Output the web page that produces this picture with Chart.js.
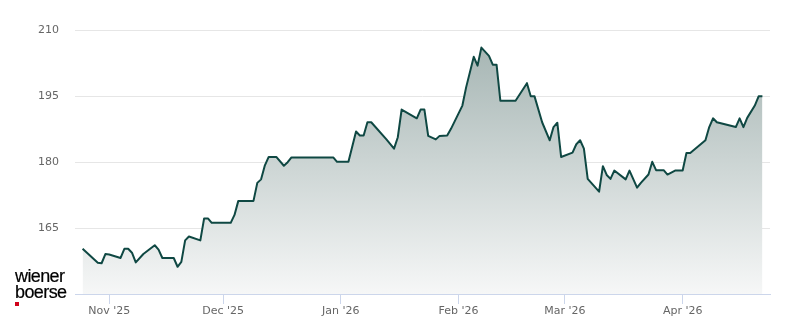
<!DOCTYPE html>
<html>
<head>
<meta charset="utf-8">
<title>Kursverlauf</title>
<script src="https://cdn.jsdelivr.net/npm/chart.js@4/dist/chart.umd.min.js"></script>
<style>
    html, body { margin: 0; padding: 0; background: #fff; }
    #wrap { position: relative; width: 800px; height: 324px; }
    #logo {
        position: absolute; left: 15px; top: 268px;
        font-family: "Liberation Sans", Arial, sans-serif;
        font-size: 18px; line-height: 16px; letter-spacing: -0.6px; color: #000;
        -webkit-text-stroke: 0.2px #000;
    }
    #logo i { position: absolute; left: 0; top: 34px; width: 4px; height: 4px; background: #d0021b; }
</style>
</head>
<body>
<div id="wrap">
    <canvas id="chart" width="800" height="324"></canvas>
    <div id="logo">wiener<br>boerse<i></i></div>
</div>
<script>
// --- Daten ---
const dates = [
    '2025-10-25', '2025-10-29', '2025-10-30', '2025-10-31', '2025-11-01', '2025-11-04', '2025-11-05',
    '2025-11-06', '2025-11-07', '2025-11-08', '2025-11-10', '2025-11-13', '2025-11-14', '2025-11-15',
    '2025-11-18', '2025-11-19', '2025-11-20', '2025-11-21', '2025-11-22', '2025-11-25', '2025-11-26',
    '2025-11-27', '2025-11-28', '2025-12-03', '2025-12-04', '2025-12-05', '2025-12-09', '2025-12-10',
    '2025-12-11', '2025-12-12', '2025-12-13', '2025-12-15', '2025-12-17', '2025-12-18', '2025-12-19',
    '2025-12-30', '2025-12-31', '2026-01-03', '2026-01-05', '2026-01-06', '2026-01-07', '2026-01-08',
    '2026-01-09', '2026-01-13', '2026-01-15', '2026-01-16', '2026-01-17', '2026-01-21', '2026-01-22',
    '2026-01-23', '2026-01-24', '2026-01-26', '2026-01-27', '2026-01-29', '2026-01-30', '2026-02-02',
    '2026-02-03', '2026-02-05', '2026-02-06', '2026-02-07', '2026-02-09', '2026-02-10', '2026-02-11',
    '2026-02-12', '2026-02-16', '2026-02-19', '2026-02-20', '2026-02-21', '2026-02-23', '2026-02-25',
    '2026-02-26', '2026-02-27', '2026-02-28', '2026-03-03', '2026-03-04', '2026-03-05', '2026-03-06',
    '2026-03-07', '2026-03-10', '2026-03-11', '2026-03-12', '2026-03-13', '2026-03-14', '2026-03-17',
    '2026-03-18', '2026-03-20', '2026-03-21', '2026-03-23', '2026-03-24', '2026-03-25', '2026-03-27',
    '2026-03-28', '2026-03-30', '2026-04-01', '2026-04-02', '2026-04-03', '2026-04-07', '2026-04-08',
    '2026-04-09', '2026-04-10', '2026-04-15', '2026-04-16', '2026-04-17', '2026-04-18', '2026-04-20',
    '2026-04-21', '2026-04-22'
];
const prices = [
    160.3, 157.1, 157.0, 159.1, 159.0, 158.2, 160.3,
    160.3, 159.4, 157.2, 159.1, 161.1, 160.1, 158.2,
    158.2, 156.2, 157.3, 162.2, 163.1, 162.2, 167.2,
    167.2, 166.2, 166.2, 168.0, 171.2, 171.2, 175.3,
    176.1, 179.3, 181.2, 181.2, 179.2, 180.0, 181.1,
    181.1, 180.1, 180.1, 187.0, 186.1, 186.1, 189.1,
    189.1, 185.2, 183.1, 185.7, 192.0, 190.0, 192.0,
    192.0, 186.0, 185.2, 186.0, 186.1, 187.6, 192.9,
    197.1, 204.0, 202.0, 206.1, 204.2, 202.2, 202.2,
    194.0, 194.0, 198.0, 195.0, 195.0, 189.1, 185.0,
    188.0, 189.0, 181.2, 182.2, 184.1, 185.0, 183.1,
    176.2, 173.3, 179.1, 177.1, 176.2, 178.1, 176.1,
    178.1, 174.2, 175.3, 177.2, 180.1, 178.2, 178.2,
    177.2, 178.1, 178.1, 182.1, 182.1, 185.0, 188.0,
    190.0, 189.1, 188.0, 190.0, 188.0, 190.1, 192.9,
    195.0, 195.0
];
const monthTicks = ['2025-11-01', '2025-12-01', '2026-01-01', '2026-02-01', '2026-03-01', '2026-04-01'];
const monthLabels = ["Nov '25", "Dec '25", "Jan '26", "Feb '26", "Mar '26", "Apr '26"];
const yTicks = [165, 180, 195, 210];
const xRange = ['2025-10-23', '2026-04-24'];
const yRange = [150, 215];

// Tage seit 1.11.2025
const base = Date.UTC(2025, 10, 1);
const toDay = s => (Date.parse(s) - base) / 864e5;

const points = dates.map((d, i) => ({ x: toDay(d), y: prices[i] }));
const tickDays = monthTicks.map(toDay);

const lineColor = '#0f4843';
const gridColor = '#e6e6e6';
const axisColor = '#ccd6eb';
const labelFont = { family: '"DejaVu Sans", sans-serif', size: 11 };

function fillGradient(context) {
    const area = context.chart.chartArea;
    if (!area) return 'rgba(15,72,67,0.2)';
    const g = context.chart.ctx.createLinearGradient(0, area.top + 30, 0, area.bottom);
    g.addColorStop(0, 'rgb(164,180,178)');
    g.addColorStop(1, 'rgb(246,247,247)');
    return g;
}

new Chart(document.getElementById('chart').getContext('2d'), {
    type: 'line',
    data: {
        datasets: [{
            data: points,
            borderColor: lineColor,
            borderWidth: 2,
            borderJoinStyle: 'round',
            backgroundColor: fillGradient,
            fill: 'start',
            tension: 0,
            pointRadius: 0
        }]
    },
    options: {
        responsive: false,
        animation: false,
        devicePixelRatio: 1,
        layout: { padding: { left: 0, right: 30, top: 8.5, bottom: 0 } },
        plugins: { legend: { display: false }, tooltip: { enabled: false } },
        scales: {
            x: {
                type: 'linear',
                min: toDay(xRange[0]),
                max: toDay(xRange[1]),
                afterBuildTicks: scale => { scale.ticks = tickDays.map(v => ({ value: v })); },
                afterFit: scale => { scale.height = 30; scale.paddingLeft = 0; scale.paddingRight = 0; },
                grid: { drawOnChartArea: false, drawTicks: true, tickLength: 10, color: axisColor },
                border: { display: true, color: axisColor, width: 1 },
                ticks: {
                    autoSkip: false,
                    maxRotation: 0,
                    padding: 1,
                    color: '#666666',
                    font: labelFont,
                    callback: (v) => monthLabels[tickDays.indexOf(v)]
                }
            },
            y: {
                min: yRange[0],
                max: yRange[1],
                afterBuildTicks: scale => { scale.ticks = yTicks.map(v => ({ value: v })); },
                afterFit: scale => { scale.width = 75; scale.paddingTop = 0; scale.paddingBottom = 0; },
                grid: { color: gridColor, drawTicks: false, lineWidth: 1 },
                border: { display: false },
                ticks: { padding: 16, color: '#666666', font: labelFont }
            }
        }
    }
});
</script>
</body>
</html>
